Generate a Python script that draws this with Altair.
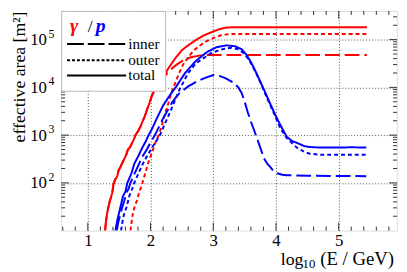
import altair as alt
import pandas as pd
import numpy as np

# ---------------- data (log10 E/GeV, log10 effective area / m^2) ----------------
g_total_x = [1.275, 1.29, 1.31, 1.33, 1.35, 1.37, 1.39, 1.41, 1.44, 1.47, 1.49, 1.52, 1.55, 1.58,
             1.61, 1.64, 1.67, 1.70, 1.73, 1.76, 1.80, 1.84, 1.87, 1.91, 1.94, 1.98, 2.02, 2.07,
             2.10, 2.15, 2.20, 2.30, 2.40, 2.50, 2.60, 2.72, 2.85, 3.00, 3.10, 3.20, 3.30, 4.00, 5.45]
g_total_y = [1.00, 1.20, 1.38, 1.50, 1.62, 1.70, 1.80, 1.98, 2.08, 2.14, 2.26, 2.33, 2.42, 2.50,
             2.58, 2.70, 2.74, 2.82, 2.90, 3.00, 3.08, 3.18, 3.28, 3.40, 3.52, 3.66, 3.82, 3.97,
             4.04, 4.12, 4.22, 4.43, 4.62, 4.78, 4.88, 4.99, 5.09, 5.17, 5.22, 5.25, 5.26, 5.26, 5.26]

g_inner_x = [1.275, 1.29, 1.31, 1.33, 1.35, 1.37, 1.39, 1.41, 1.44, 1.47, 1.49, 1.52, 1.55, 1.58,
             1.61, 1.64, 1.67, 1.70, 1.73, 1.76, 1.80, 1.84, 1.87, 1.91, 1.94, 1.98, 2.02, 2.07,
             2.10, 2.15, 2.20, 2.30, 2.40, 2.50, 2.64, 2.80, 2.90, 4.00, 5.45]
g_inner_y = [1.00, 1.20, 1.38, 1.50, 1.62, 1.70, 1.80, 1.98, 2.08, 2.14, 2.26, 2.33, 2.42, 2.50,
             2.58, 2.70, 2.74, 2.82, 2.90, 3.00, 3.08, 3.18, 3.28, 3.40, 3.52, 3.66, 3.82, 3.96,
             4.02, 4.10, 4.19, 4.35, 4.46, 4.55, 4.63, 4.67, 4.68, 4.68, 4.68]

g_outer_x = [1.68, 1.70, 1.72, 1.75, 1.78, 1.82, 1.87, 1.92, 1.97, 2.02, 2.07, 2.13, 2.18, 2.23,
             2.28, 2.33, 2.38, 2.45, 2.52, 2.60, 2.68, 2.77, 2.88, 3.00, 3.14, 3.30, 4.00, 5.45]
g_outer_y = [1.00, 1.20, 1.38, 1.52, 1.62, 1.80, 2.00, 2.22, 2.45, 2.62, 2.82, 3.00, 3.20, 3.45,
             3.65, 3.88, 4.05, 4.28, 4.48, 4.63, 4.76, 4.86, 4.96, 5.03, 5.10, 5.12, 5.12, 5.12]

p_total_x = [1.44, 1.47, 1.50, 1.53, 1.56, 1.60, 1.63, 1.67, 1.70, 1.74, 1.80, 1.87, 1.92, 1.97,
             2.03, 2.10, 2.20, 2.30, 2.40, 2.55, 2.72, 2.90, 3.05, 3.21, 3.35, 3.45, 3.52, 3.60,
             3.68, 3.76, 3.84, 3.91, 3.99, 4.07, 4.17, 4.25, 4.33, 4.45, 4.54, 4.70, 5.00, 5.20, 5.44]
p_total_y = [1.00, 1.22, 1.38, 1.55, 1.72, 1.82, 2.00, 2.12, 2.22, 2.40, 2.55, 2.74, 2.86, 3.00,
             3.15, 3.35, 3.62, 3.82, 4.00, 4.30, 4.55, 4.74, 4.84, 4.88, 4.86, 4.80, 4.70, 4.53,
             4.32, 4.09, 3.86, 3.65, 3.42, 3.21, 2.97, 2.88, 2.84, 2.77, 2.75, 2.74, 2.74, 2.745, 2.74]

p_inner_x = [1.46, 1.49, 1.52, 1.55, 1.58, 1.62, 1.65, 1.68, 1.73, 1.80, 1.87, 1.94, 2.00, 2.07,
             2.20, 2.35, 2.46, 2.60, 2.72, 2.85, 3.00, 3.10, 3.20, 3.31, 3.40, 3.45, 3.50, 3.55,
             3.60, 3.66, 3.73, 3.81, 3.86, 3.91, 3.96, 4.02, 4.10, 4.17, 4.50, 5.44]
p_inner_y = [1.00, 1.20, 1.35, 1.50, 1.62, 1.80, 1.88, 2.00, 2.15, 2.35, 2.55, 2.70, 2.85, 3.00,
             3.35, 3.70, 3.88, 4.02, 4.11, 4.19, 4.26, 4.24, 4.19, 4.11, 4.00, 3.89, 3.70, 3.48,
             3.28, 3.07, 2.81, 2.51, 2.40, 2.33, 2.25, 2.20, 2.17, 2.16, 2.15, 2.14]

p_outer_x = [1.53, 1.56, 1.59, 1.62, 1.66, 1.70, 1.74, 1.80, 1.87, 1.94, 2.03, 2.15, 2.30, 2.46,
             2.60, 2.72, 2.98, 3.15, 3.29, 3.40, 3.50, 3.58, 3.66, 3.74, 3.81, 3.89, 3.97, 4.07,
             4.17, 4.33, 4.45, 4.54, 4.70, 5.44]
p_outer_y = [1.00, 1.25, 1.40, 1.50, 1.72, 1.85, 2.00, 2.18, 2.38, 2.55, 2.75, 3.00, 3.45, 3.95,
             4.30, 4.50, 4.73, 4.80, 4.83, 4.80, 4.70, 4.55, 4.36, 4.14, 3.92, 3.68, 3.45, 3.14,
             2.94, 2.74, 2.65, 2.61, 2.59, 2.59]

# axis ticks
x_major = [1, 2, 3, 4, 5]
x_minor = [0.6, 0.8, 1.2, 1.4, 1.6, 1.8, 2.2, 2.4, 2.6, 2.8, 3.2, 3.4, 3.6, 3.8,
           4.2, 4.4, 4.6, 4.8, 5.2, 5.4, 5.6, 5.8]
y_major = [2, 3, 4, 5]
y_major_labels = ["2", "3", "4", "5"]
y_minor_mult = [2, 3, 4, 5, 6, 7, 8, 9]
y_decades = [1, 2, 3, 4, 5]

XDOM = [0.575, 5.93]
YDOM = [1.0, 5.6]
W, H = 341, 223
FONT = "Liberation Serif"
RED, BLUE = "#ff0000", "#0000ff"

series = [
    ("gamma", "total", g_total_x, g_total_y),
    ("gamma", "inner", g_inner_x, g_inner_y),
    ("gamma", "outer", g_outer_x, g_outer_y),
    ("proton", "total", p_total_x, p_total_y),
    ("proton", "inner", p_inner_x, p_inner_y),
    ("proton", "outer", p_outer_x, p_outer_y),
]
rows = []
for part, kind, xs_, ys_ in series:
    for i, (a, b) in enumerate(zip(xs_, ys_)):
        rows.append({"particle": part, "kind": kind, "series": part + "_" + kind,
                     "logE": a, "lg": b, "o": i})
df = pd.DataFrame(rows)

xs = alt.Scale(domain=XDOM, nice=False, zero=False)
ys = alt.Scale(domain=YDOM, nice=False, zero=False)

lines = alt.Chart(df).mark_line(strokeWidth=2, clip=True).encode(
    x=alt.X("logE:Q", scale=xs, axis=alt.Axis(
        values=x_major, format="d", grid=True, gridDash=[1, 2], gridColor="#555",
        ticks=False, tickSize=0, domain=False, labelFont=FONT, labelFontSize=17,
        labelColor="black", labelPadding=2, title=None)),
    y=alt.Y("lg:Q", scale=ys, axis=alt.Axis(
        values=y_major, labelExpr="'10'", grid=True, gridDash=[1, 2], gridColor="#555",
        ticks=False, tickSize=0, domain=False, labelFont=FONT, labelFontSize=17,
        labelColor="black", labelPadding=15, title="effective area [m²]",
        titleFont=FONT, titleFontSize=18, titleFontWeight="normal", titleColor="black",
        titleAnchor="end", titlePadding=1)),
    color=alt.Color("particle:N", scale=alt.Scale(domain=["gamma", "proton"], range=[RED, BLUE]), legend=None),
    strokeDash=alt.StrokeDash("kind:N", scale=alt.Scale(domain=["inner", "outer", "total"],
                                                          range=[[15, 5], [4, 3], [1, 0]]), legend=None),
    detail="series:N",
    order="o:Q",
)

# ticks (inside the frame, on all four sides)
xt = pd.DataFrame({"logE": x_major + x_minor, "len": [8] * len(x_major) + [4] * len(x_minor)})
ymin_vals = [float(np.log10(m * 10 ** d)) for d in y_decades for m in y_minor_mult]
ymin_vals = [v for v in ymin_vals if v < YDOM[1]]
yt = pd.DataFrame({"lg": y_major + ymin_vals, "len": [8] * len(y_major) + [4] * len(ymin_vals)})

tick_layers = []
for L in (8, 4):
    sx = xt[xt["len"] == L]
    sy = yt[yt["len"] == L]
    tick_layers.append(alt.Chart(sx).mark_rule(color="#333").encode(
        x=alt.X("logE:Q", scale=xs), y=alt.value(H), y2=alt.value(H - L)))
    tick_layers.append(alt.Chart(sx).mark_rule(color="#333").encode(
        x=alt.X("logE:Q", scale=xs), y=alt.value(0), y2=alt.value(L)))
    tick_layers.append(alt.Chart(sy).mark_rule(color="#333").encode(
        y=alt.Y("lg:Q", scale=ys), x=alt.value(0), x2=alt.value(L)))
    tick_layers.append(alt.Chart(sy).mark_rule(color="#333").encode(
        y=alt.Y("lg:Q", scale=ys), x=alt.value(W), x2=alt.value(W - L)))

# exponents of the y labels
exp_df = pd.DataFrame({"lg": y_major, "lab": y_major_labels})
exps = alt.Chart(exp_df).mark_text(align="left", baseline="alphabetic", font=FONT,
                                   fontSize=12, dy=-2, color="black").encode(
    y=alt.Y("lg:Q", scale=ys), x=alt.value(-13), text="lab:N")

one = pd.DataFrame({"k": [0]})

def txt(s, x, y, size, color="black", align="left", baseline="alphabetic", **kw):
    return alt.Chart(one).mark_text(align=align, baseline=baseline, font=FONT, fontSize=size,
                                    color=color, **kw).encode(
        x=alt.value(x), y=alt.value(y), text=alt.value(s))

# x title pieces
xtitle = [
    txt("log", 223, 258, 18),
    txt("10", 245, 261, 13),
    txt("(E / GeV)", 263, 258, 19),
]

# legend
box = alt.Chart(one).mark_rect(fill="white", stroke="#bbb", strokeWidth=1).encode(
    x=alt.value(0.5), x2=alt.value(106), y=alt.value(0.5), y2=alt.value(81.5))

def leg_line(y, dash):
    return alt.Chart(one).mark_rule(color="black", strokeWidth=2, strokeDash=dash).encode(
        x=alt.value(6), x2=alt.value(66), y=alt.value(y))

legend = [
    box,
    txt("γ", 9, 21.5, 20, RED, fontStyle="italic", fontWeight="bold"),
    txt("/", 27, 21.5, 18, "black"),
    txt("p", 35, 21.5, 20, BLUE, fontStyle="italic", fontWeight="bold"),
    leg_line(33.5, [17, 4]), txt("inner", 68, 33.5, 15.5, baseline="middle"),
    leg_line(50, [3, 2]), txt("outer", 68, 50, 15.5, baseline="middle"),
    leg_line(65.5, [1, 0]), txt("total", 68, 65.5, 15.5, baseline="middle"),
]

chart = alt.layer(lines, *tick_layers, exps, *xtitle, *legend).properties(
    width=W, height=H,
    autosize=alt.AutoSizeParams(type="none"),
    padding={"left": 54, "top": 1, "right": 2, "bottom": 40},
).configure_view(stroke="#333", strokeWidth=1).configure(background="white")

chart.save("out.html", embed_options={"renderer": "svg", "actions": False})
